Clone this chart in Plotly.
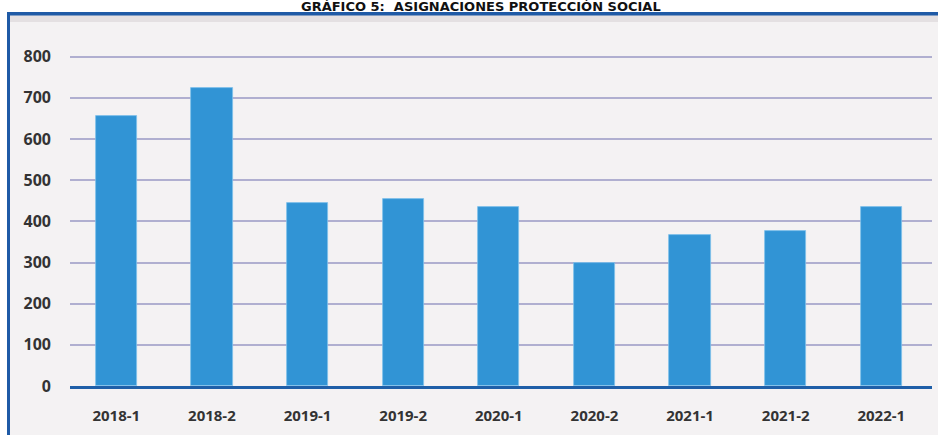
import plotly.graph_objects as go

# Semesters and social-protection allocations
periodos = ["2018-1", "2018-2", "2019-1", "2019-2", "2020-1", "2020-2", "2021-1", "2021-2", "2022-1"]
asignaciones = [656, 725, 444, 455, 435, 300, 368, 376, 436]
y_ticks = [0, 100, 200, 300, 400, 500, 600, 700, 800]

W, H = 938, 435
L, R, T, B = 70, 6, 40, 49
pw, ph = W - L - R, H - T - B


def px_x(px):
    return (px - L) / pw


def px_y(py):
    return (H - B - py) / ph


fig = go.Figure(
    go.Bar(
        x=list(range(len(periodos))),
        y=asignaciones,
        width=0.432,
        marker=dict(color="#3194d5", line=dict(color="#7fc0ea", width=0.8)),
        hoverinfo="x+y",
    )
)

x_font = dict(family="Open Sans", size=15, color="#333333", weight="bold")
y_font = dict(family="Open Sans", size=16, color="#333333", weight="bold")

fig.update_layout(
    width=W,
    height=H,
    margin=dict(l=L, r=R, t=T, b=B, pad=0),
    paper_bgcolor="#f4f2f3",
    plot_bgcolor="#f4f2f3",
    showlegend=False,
    bargap=0,
    xaxis=dict(
        tickmode="array",
        tickvals=list(range(len(periodos))),
        ticktext=periodos,
        range=[-0.484, 8.53],
        showgrid=False,
        zeroline=False,
        showline=True,
        linecolor="#1f5fa8",
        linewidth=3,
        ticks="",
        tickfont=x_font,
        ticklabelstandoff=14,
        fixedrange=True,
    ),
    yaxis=dict(
        tickmode="array",
        tickvals=y_ticks,
        ticktext=[str(v) for v in y_ticks],
        range=[0, 840.6],
        showgrid=True,
        gridcolor="#b0afd0",
        gridwidth=1.5,
        zeroline=False,
        showline=False,
        ticks="",
        tickfont=y_font,
        ticklabelstandoff=18,
        fixedrange=True,
    ),
    shapes=[
        # white strip above the frame
        dict(type="rect", xref="paper", yref="paper", layer="below",
             x0=px_x(-5), x1=px_x(W + 5), y0=px_y(12), y1=px_y(-5),
             fillcolor="#ffffff", line=dict(width=0)),
        # white strip left of the frame
        dict(type="rect", xref="paper", yref="paper", layer="below",
             x0=px_x(-5), x1=px_x(7), y0=px_y(H + 5), y1=px_y(12),
             fillcolor="#ffffff", line=dict(width=0)),
        # soft shadow under the top border
        dict(type="rect", xref="paper", yref="paper", layer="below",
             x0=px_x(10), x1=px_x(W + 5), y0=px_y(22), y1=px_y(15),
             fillcolor="rgba(180,170,175,0.25)", line=dict(width=0)),
        # frame: top border
        dict(type="rect", xref="paper", yref="paper", layer="above",
             x0=px_x(7), x1=px_x(W + 5), y0=px_y(15.5), y1=px_y(12),
             fillcolor="#1f5aa6", line=dict(width=0)),
        # frame: left border
        dict(type="rect", xref="paper", yref="paper", layer="above",
             x0=px_x(7), x1=px_x(10), y0=px_y(H + 5), y1=px_y(12),
             fillcolor="#1f5aa6", line=dict(width=0)),
    ],
    annotations=[
        dict(text="GRÁFICO 5:  ASIGNACIONES PROTECCIÓN SOCIAL",
             xref="paper", yref="paper", x=px_x(481), y=px_y(6),
             xanchor="center", yanchor="middle", showarrow=False,
             font=dict(family="DejaVu Sans", size=13, color="#111111", weight="bold")),
    ],
)

fig.write_html("out.html")
